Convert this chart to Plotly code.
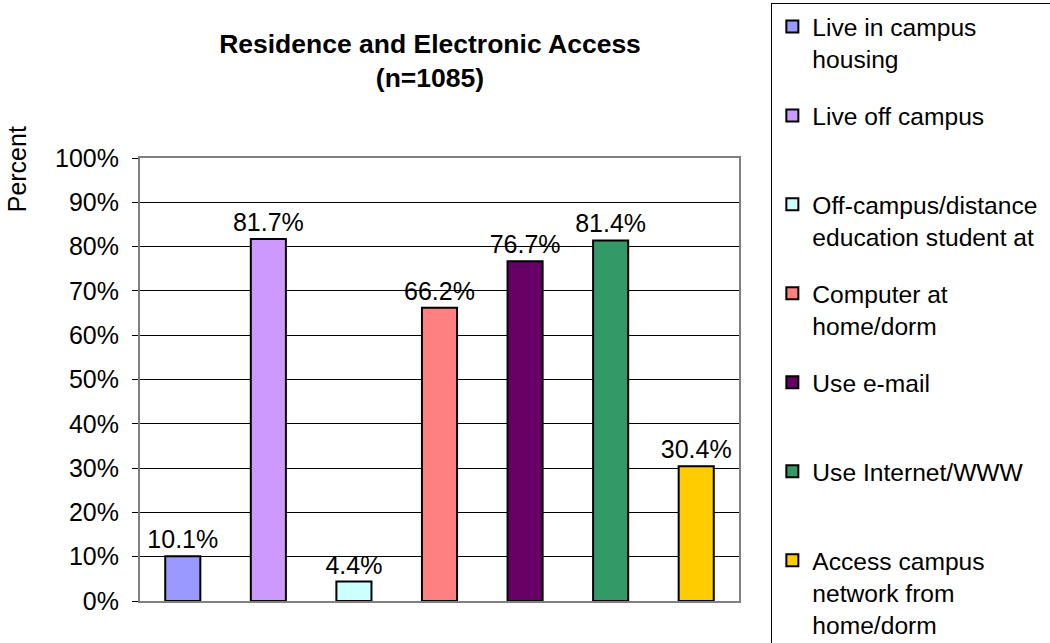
import plotly.graph_objects as go

series_names = [
    "Live in campus<br>housing",
    "Live off campus",
    "Off-campus/distance<br>education student at",
    "Computer at<br>home/dorm",
    "Use e-mail",
    "Use Internet/WWW",
    "Access campus<br>network from<br>home/dorm",
]
values = [10.1, 81.7, 4.4, 66.2, 76.7, 81.4, 30.4]
colors = ["#9999FF", "#CC99FF", "#CCFFFF", "#FF8080", "#660066", "#339966", "#FFCC00"]
y_ticks = [0, 10, 20, 30, 40, 50, 60, 70, 80, 90, 100]

FONT = "Liberation Sans, Arial, sans-serif"
FS = 25

fig = go.Figure()
for i, (name, v, c) in enumerate(zip(series_names, values, colors)):
    legend_name = name if "<br>" in name else name + "<br> "
    if i == 2:
        legend_name = legend_name.replace("distance", "distance&nbsp;&nbsp;")
    fig.add_trace(go.Bar(
        x=[i], y=[v / 100], name=legend_name, legendgroup=str(i),
        marker=dict(color=c, line=dict(color="black", width=2)),
        width=0.41,
        text=[f"{v:.1f}%"], textposition="outside", constraintext="none",
        textfont=dict(size=FS, color="black", family=FONT),
        cliponaxis=False,
    ))

fig.update_layout(
    width=1050, height=643,
    margin=dict(l=140, r=311, t=158, b=42, autoexpand=False),
    paper_bgcolor="white", plot_bgcolor="white",
    font=dict(family=FONT, color="black"),
    showlegend=True,
    barmode="overlay",
    title=dict(
        text="<b>Residence and Electronic Access<br>(n=1085)</b>",
        x=430 / 1050, xanchor="center", y=1 - 53 / 643, yanchor="top",
        font=dict(size=26.5, family=FONT, color="black"),
    ),
    legend=dict(
        x=1.054, xanchor="left", y=1.35, yanchor="top",
        bordercolor="black", borderwidth=1, bgcolor="white",
        font=dict(size=24.6, family=FONT, color="black"),
        tracegroupgap=22, traceorder="grouped", valign="top",
        itemwidth=30, maxheight=900,
    ),
    xaxis=dict(
        range=[-0.5, 6.5], showticklabels=False, showgrid=False,
        showline=True, linecolor="#808080", linewidth=2, mirror=True,
        ticks="", zeroline=False,
    ),
    yaxis=dict(
        range=[0, 1], tickvals=[t / 100 for t in y_ticks],
        ticktext=[f"{t}%" for t in y_ticks],
        tickfont=dict(size=FS, family=FONT, color="black"),
        showgrid=True, gridcolor="black", gridwidth=1,
        showline=True, linecolor="#808080", linewidth=2, mirror=True,
        ticks="outside", ticklen=6, tickcolor="black", zeroline=False,
        ticklabelstandoff=8,
    ),
    annotations=[dict(
        text="Percent", textangle=-90, xref="paper", yref="paper",
        x=-0.205, y=0.975, xanchor="center", yanchor="middle",
        showarrow=False, font=dict(size=FS, family=FONT, color="black"),
    )],
)

fig.write_html("out.html")
